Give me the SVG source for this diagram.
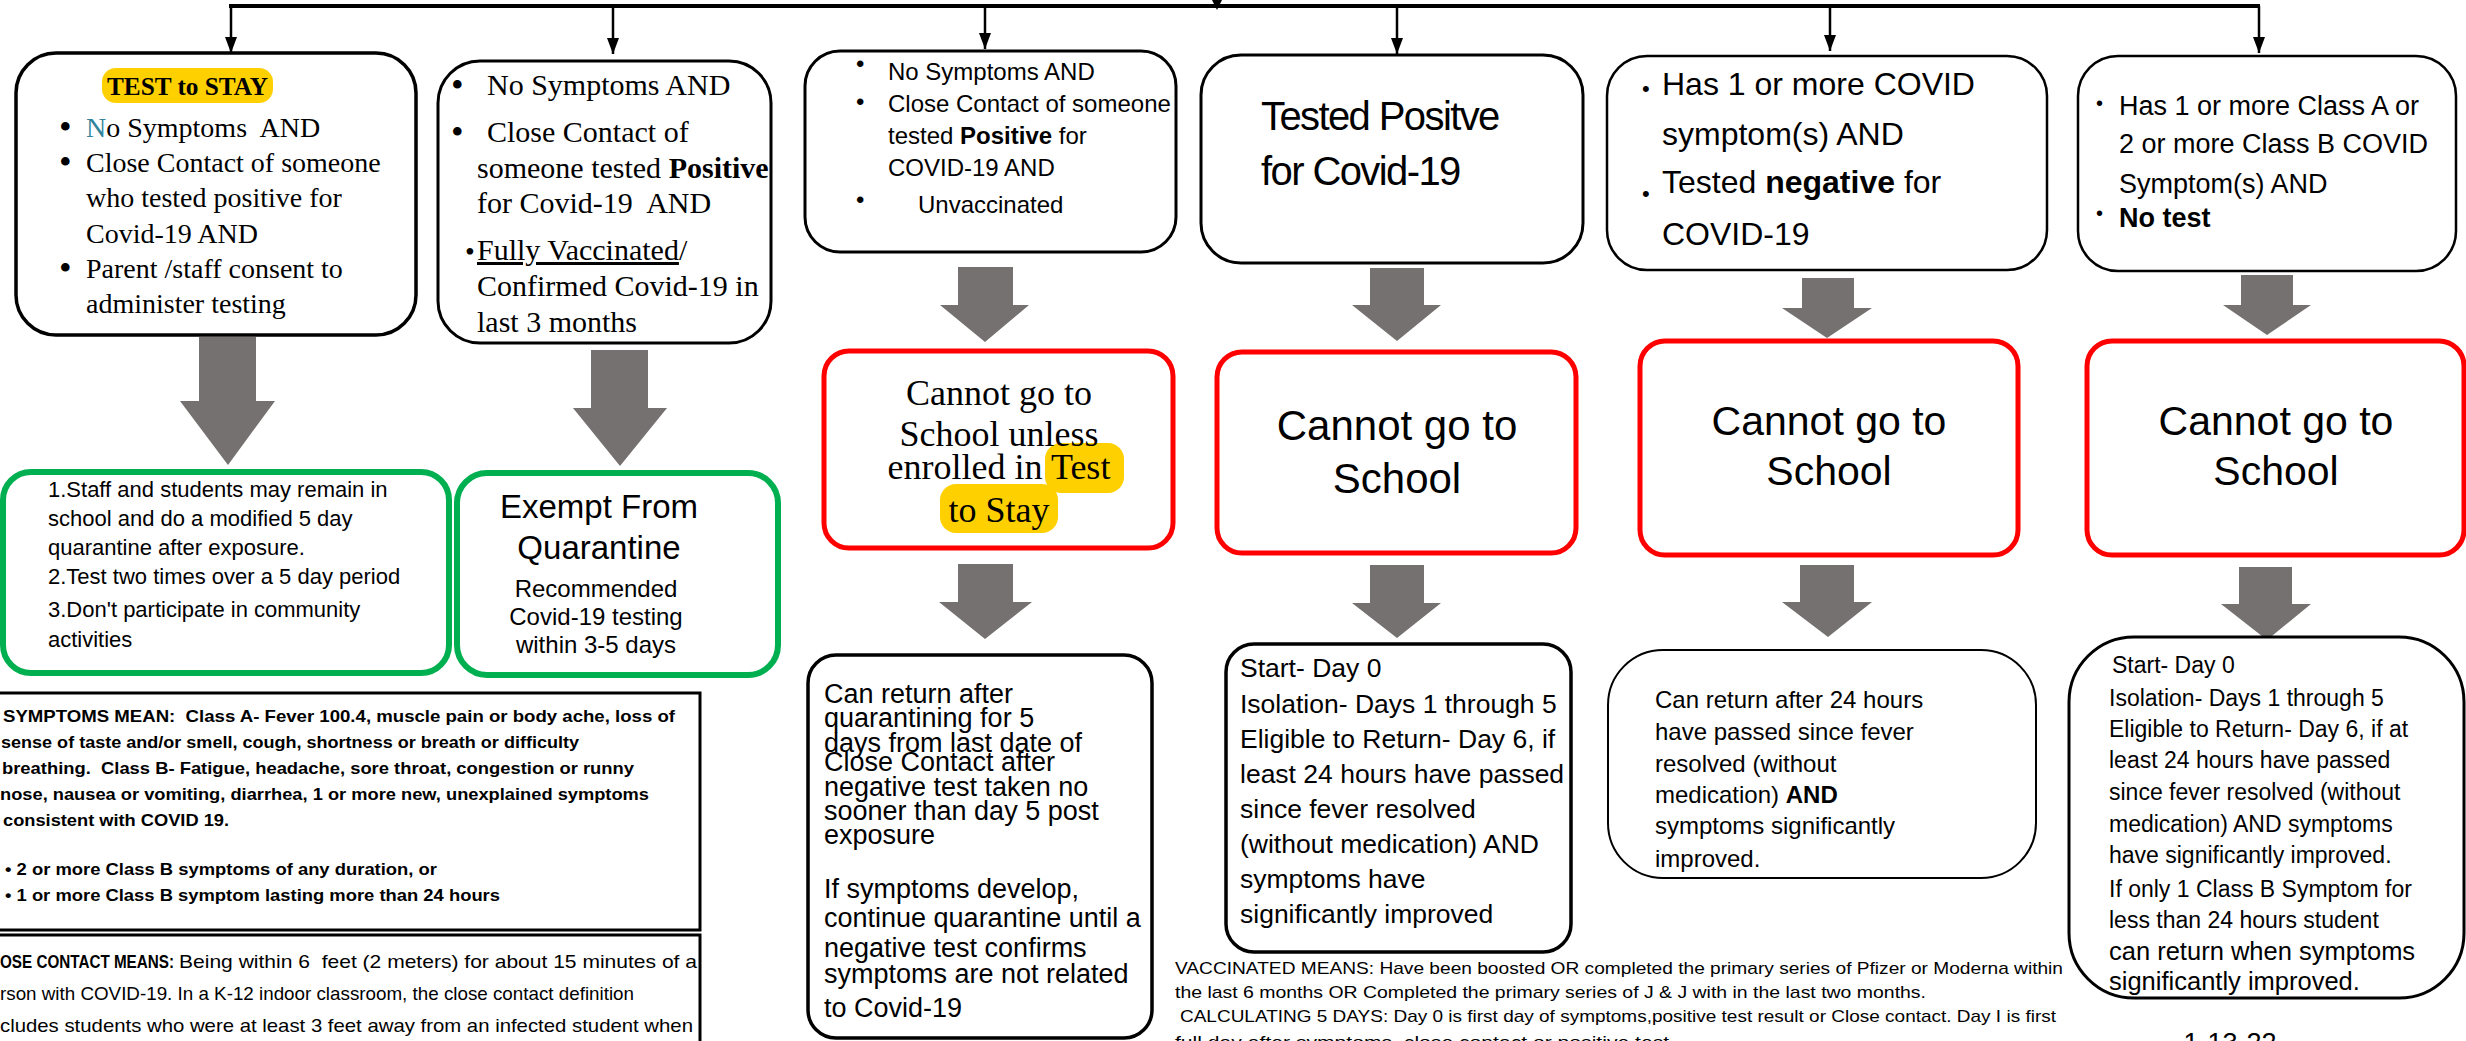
<svg xmlns="http://www.w3.org/2000/svg" width="2466" height="1041" viewBox="0 0 2466 1041">
<defs>
<marker id="ah" viewBox="0 -6 16 12" refX="16" refY="0" markerWidth="16" markerHeight="12" markerUnits="userSpaceOnUse" orient="auto">
<path d="M0,-6 L16,0 L0,6 z" fill="#000"/>
</marker>
<style>
.bx{fill:#fff;stroke:#000}
.red{fill:#fff;stroke:#ff0000;stroke-width:5}
.grn{fill:#fff;stroke:#00b050;stroke-width:6}
.ga{fill:#767171}
.ln{stroke:#000;stroke-width:2.5;fill:none}
.hl{fill:#ffd000}
.sf{font-family:"Liberation Serif",serif;fill:#000}
.ss{font-family:"Liberation Sans",sans-serif;fill:#000}
.b{font-weight:bold}
</style>
</defs>
<rect width="2466" height="1041" fill="#fff"/>

<g id="connectors">
<line x1="229" y1="6" x2="2260" y2="6" stroke="#000" stroke-width="4"/>
<path d="M1212,0 L1222,0 L1217,10 z" fill="#000"/>
<line class="ln" x1="231" y1="6" x2="231" y2="53" marker-end="url(#ah)"/>
<line class="ln" x1="613" y1="6" x2="613" y2="54" marker-end="url(#ah)"/>
<line class="ln" x1="985" y1="6" x2="985" y2="49" marker-end="url(#ah)"/>
<line class="ln" x1="1397" y1="6" x2="1397" y2="54" marker-end="url(#ah)"/>
<line class="ln" x1="1830" y1="6" x2="1830" y2="51" marker-end="url(#ah)"/>
<line class="ln" x1="2259" y1="6" x2="2259" y2="53" marker-end="url(#ah)"/>
<polygon class="ga" points="199,337 256,337 256,401 275,401 228,465 180,401 199,401"/>
<polygon class="ga" points="591,350 648,350 648,408 667,408 620,466 573,408 591,408"/>
<polygon class="ga" points="958,267 1013,267 1013,305 1029,305 985,342 940,305 958,305"/>
<polygon class="ga" points="1370,268 1424,268 1424,305 1441,305 1397,341 1352,305 1370,305"/>
<polygon class="ga" points="1802,278 1854,278 1854,308 1872,308 1827,338 1782,308 1802,308"/>
<polygon class="ga" points="2241,275 2293,275 2293,305 2311,305 2267,335 2223,305 2241,305"/>
<polygon class="ga" points="958,564 1013,564 1013,602 1032,602 985,639 939,602 958,602"/>
<polygon class="ga" points="1370,565 1424,565 1424,603 1441,603 1397,638 1352,603 1370,603"/>
<polygon class="ga" points="1800,565 1854,565 1854,602 1872,602 1828,637 1782,602 1800,602"/>
<polygon class="ga" points="2239,567 2292,567 2292,604 2311,604 2267,640 2221,604 2239,604"/>
</g>

<g id="test-to-stay">
<rect class="bx" x="16" y="53" width="400" height="282" rx="40" stroke-width="3.5"/>
<rect class="hl" x="102" y="68" width="171" height="35" rx="14"/>
<text class="sf b" x="187.5" y="95" text-anchor="middle" font-size="26" textLength="161" lengthAdjust="spacingAndGlyphs">TEST to STAY</text>
<g class="sf" font-size="28">
<text x="59" y="139" font-size="36">•</text>
<text x="86" y="137"><tspan fill="#31849b">N</tspan>o Symptoms&#160; AND</text>
<text x="59" y="174" font-size="36">•</text>
<text x="86" y="172">Close Contact of someone</text>
<text x="86" y="207">who tested positive for</text>
<text x="86" y="243">Covid-19 AND</text>
<text x="59" y="280" font-size="36">•</text>
<text x="86" y="278">Parent /staff consent to</text>
<text x="86" y="313">administer testing</text>
</g>
</g>

<g id="vaccinated-contact">
<rect class="bx" x="438" y="61" width="333" height="282" rx="42" stroke-width="3"/>
<g class="sf" font-size="30">
<text x="451" y="97" font-size="36">•</text>
<text x="487" y="95">No Symptoms AND</text>
<text x="451" y="144" font-size="36">•</text>
<text x="487" y="142">Close Contact of</text>
<text x="477" y="178">someone tested <tspan class="b">Positive</tspan></text>
<text x="477" y="213">for Covid-19&#160; AND</text>
<text x="465" y="261" font-size="28">•</text>
<text x="477" y="260"><tspan text-decoration="underline">Fully Vaccinated</tspan>/</text>
<text x="477" y="296">Confirmed Covid-19 in</text>
<text x="477" y="332">last 3 months</text>
</g>
</g>

<g id="unvaccinated-contact">
<rect class="bx" x="805" y="51" width="371" height="201" rx="35" stroke-width="3"/>
<g class="ss" font-size="24">
<text x="856" y="72">•</text>
<text x="888" y="80">No Symptoms AND</text>
<text x="856" y="110">•</text>
<text x="888" y="112">Close Contact of someone</text>
<text x="888" y="144">tested <tspan class="b">Positive</tspan> for</text>
<text x="888" y="176">COVID-19 AND</text>
<text x="856" y="208">•</text>
<text x="918" y="213">Unvaccinated</text>
</g>
</g>

<g id="tested-positive">
<rect class="bx" x="1201" y="55" width="382" height="208" rx="40" stroke-width="3"/>
<g class="ss" font-size="40" letter-spacing="-1.6">
<text x="1261" y="130">Tested Positve</text>
<text x="1261" y="185">for Covid-19</text>
</g>
</g>

<g id="symptoms-negative">
<rect class="bx" x="1607" y="56" width="440" height="214" rx="40" stroke-width="2.5"/>
<g class="ss" font-size="32">
<text x="1642" y="96" font-size="22">•</text>
<text x="1662" y="95">Has 1 or more COVID</text>
<text x="1662" y="145">symptom(s) AND</text>
<text x="1642" y="201" font-size="22">•</text>
<text x="1662" y="193">Tested <tspan class="b">negative</tspan> for</text>
<text x="1662" y="245">COVID-19</text>
</g>
</g>

<g id="symptoms-no-test">
<rect class="bx" x="2078" y="56" width="378" height="215" rx="40" stroke-width="2.5"/>
<g class="ss" font-size="27">
<text x="2096" y="110" font-size="20">•</text>
<text x="2119" y="115">Has 1 or more Class A or</text>
<text x="2119" y="153">2 or more Class B COVID</text>
<text x="2119" y="193">Symptom(s) AND</text>
<text x="2096" y="220" font-size="20">•</text>
<text x="2119" y="227" class="b">No test</text>
</g>
</g>

<g id="modified-quarantine">
<rect class="grn" x="3" y="472" width="446" height="201" rx="28"/>
<g class="ss" font-size="22">
<text x="48" y="497">1.Staff and students may remain in</text>
<text x="48" y="526">school and do a modified 5 day</text>
<text x="48" y="555">quarantine after exposure.</text>
<text x="48" y="584">2.Test two times over a 5 day period</text>
<text x="48" y="617">3.Don't participate in community</text>
<text x="48" y="647">activities</text>
</g>
</g>

<g id="exempt">
<rect class="grn" x="457" y="473" width="321" height="202" rx="30"/>
<g class="ss" text-anchor="middle">
<text x="599" y="518" font-size="33">Exempt From</text>
<text x="599" y="559" font-size="33">Quarantine</text>
<text x="596" y="597" font-size="24">Recommended</text>
<text x="596" y="625" font-size="24">Covid-19 testing</text>
<text x="596" y="653" font-size="24">within 3-5 days</text>
</g>
</g>

<g id="symptoms-definition">
<rect class="bx" x="-3" y="693" width="703" height="237" stroke-width="3"/>
<g class="ss b" font-size="17">
<text x="3" y="722" textLength="672" lengthAdjust="spacingAndGlyphs">SYMPTOMS MEAN:&#160; Class A- Fever 100.4, muscle pain or body ache, loss of</text>
<text x="1" y="748" textLength="578" lengthAdjust="spacingAndGlyphs">sense of taste and/or smell, cough, shortness or breath or difficulty</text>
<text x="2" y="774" textLength="632" lengthAdjust="spacingAndGlyphs">breathing.&#160; Class B- Fatigue, headache, sore throat, congestion or runny</text>
<text x="0" y="800" textLength="649" lengthAdjust="spacingAndGlyphs">nose, nausea or vomiting, diarrhea, 1 or more new, unexplained symptoms</text>
<text x="3" y="826" textLength="226" lengthAdjust="spacingAndGlyphs">consistent with COVID 19.</text>
<text x="5" y="875" textLength="432" lengthAdjust="spacingAndGlyphs">• 2 or more Class B symptoms of any duration, or</text>
<text x="5" y="901" textLength="495" lengthAdjust="spacingAndGlyphs">• 1 or more Class B symptom lasting more than 24 hours</text>
</g>
</g>

<g id="close-contact-definition">
<rect class="bx" x="-3" y="935" width="703" height="120" stroke-width="3"/>
<g class="ss" font-size="19">
<text x="0" y="968" class="b" textLength="174" lengthAdjust="spacingAndGlyphs">OSE CONTACT MEANS:</text>
<text x="179" y="968" textLength="518" lengthAdjust="spacingAndGlyphs">Being within 6&#160; feet (2 meters) for about 15 minutes of a</text>
<text x="0" y="1000" textLength="634" lengthAdjust="spacingAndGlyphs">rson with COVID-19. In a K-12 indoor classroom, the close contact definition</text>
<text x="0" y="1032" textLength="693" lengthAdjust="spacingAndGlyphs">cludes students who were at least 3 feet away from an infected student when</text>
</g>
</g>

<g id="cannot-go-unless-tts">
<rect class="red" x="824" y="351" width="349" height="197" rx="25"/>
<rect class="hl" x="1045" y="443" width="79" height="50" rx="16"/>
<rect class="hl" x="940" y="484" width="118" height="49" rx="16"/>
<g class="sf" font-size="36" text-anchor="middle">
<text x="999" y="405">Cannot go to</text>
<text x="999" y="446">School unless</text>
<text x="999" y="479">enrolled in Test</text>
<text x="999" y="522">to Stay</text>
</g>
</g>

<g id="cannot-go-positive">
<rect class="red" x="1217" y="352" width="359" height="201" rx="25"/>
<g class="ss" font-size="42" text-anchor="middle">
<text x="1397" y="440">Cannot go to</text>
<text x="1397" y="493">School</text>
</g>
</g>

<g id="cannot-go-negative">
<rect class="red" x="1640" y="341" width="378" height="214" rx="25"/>
<g class="ss" font-size="41" text-anchor="middle">
<text x="1829" y="435">Cannot go to</text>
<text x="1829" y="485">School</text>
</g>
</g>

<g id="cannot-go-no-test">
<rect class="red" x="2087" y="341" width="377" height="214" rx="25"/>
<g class="ss" font-size="41" text-anchor="middle">
<text x="2276" y="435">Cannot go to</text>
<text x="2276" y="485">School</text>
</g>
</g>

<g id="return-quarantine">
<rect class="bx" x="808" y="655" width="344" height="383" rx="28" stroke-width="3.5"/>
<g class="ss" font-size="27">
<text x="824" y="703">Can return after</text>
<text x="824" y="727">quarantining for 5</text>
<text x="824" y="752">days from last date of</text>
<text x="824" y="771">Close Contact after</text>
<text x="824" y="796">negative test taken no</text>
<text x="824" y="820">sooner than day 5 post</text>
<text x="824" y="844">exposure</text>
<text x="824" y="898">If symptoms develop,</text>
<text x="824" y="927">continue quarantine until a</text>
<text x="824" y="957">negative test confirms</text>
<text x="824" y="983">symptoms are not related</text>
<text x="824" y="1017">to Covid-19</text>
</g>
</g>

<g id="isolation-positive">
<rect class="bx" x="1226" y="644" width="345" height="308" rx="28" stroke-width="3.5"/>
<g class="ss" font-size="26.5">
<text x="1240" y="677">Start- Day 0</text>
<text x="1240" y="713">Isolation- Days 1 through 5</text>
<text x="1240" y="748">Eligible to Return- Day 6, if</text>
<text x="1240" y="783">least 24 hours have passed</text>
<text x="1240" y="818">since fever resolved</text>
<text x="1240" y="853">(without medication) AND</text>
<text x="1240" y="888">symptoms have</text>
<text x="1240" y="923">significantly improved</text>
</g>
</g>

<g id="return-negative">
<rect class="bx" x="1608" y="650" width="428" height="228" rx="55" stroke-width="2"/>
<g class="ss" font-size="24">
<text x="1655" y="708">Can return after 24 hours</text>
<text x="1655" y="740">have passed since fever</text>
<text x="1655" y="772">resolved (without</text>
<text x="1655" y="803">medication) <tspan class="b">AND</tspan></text>
<text x="1655" y="834">symptoms significantly</text>
<text x="1655" y="867">improved.</text>
</g>
</g>

<g id="isolation-no-test">
<rect class="bx" x="2069" y="637" width="395" height="361" rx="65" stroke-width="3"/>
<g class="ss" font-size="23">
<text x="2112" y="673">Start- Day 0</text>
<text x="2109" y="706">Isolation- Days 1 through 5</text>
<text x="2109" y="737">Eligible to Return- Day 6, if at</text>
<text x="2109" y="768">least 24 hours have passed</text>
<text x="2109" y="800">since fever resolved (without</text>
<text x="2109" y="832">medication) AND symptoms</text>
<text x="2109" y="863">have significantly improved.</text>
<text x="2109" y="897">If only 1 Class B Symptom for</text>
<text x="2109" y="928">less than 24 hours student</text>
<text x="2109" y="960" font-size="25.5">can return when symptoms</text>
<text x="2109" y="990" font-size="25.5">significantly improved.</text>
</g>
</g>

<g id="vaccinated-note">
<g class="ss" font-size="17">
<text x="1175" y="974" textLength="888" lengthAdjust="spacingAndGlyphs">VACCINATED MEANS: Have been boosted OR completed the primary series of Pfizer or Moderna within</text>
<text x="1175" y="998" textLength="751" lengthAdjust="spacingAndGlyphs">the last 6 months OR Completed the primary series of J &amp; J with in the last two months.</text>
<text x="1180" y="1022" textLength="876" lengthAdjust="spacingAndGlyphs">CALCULATING 5 DAYS: Day 0 is first day of symptoms,positive test result or Close contact. Day I is first</text>
<text x="1175" y="1048" textLength="500" lengthAdjust="spacingAndGlyphs">full day after symptoms, close contact or positive test.</text>
</g>
<text class="ss" x="2230" y="1052" font-size="27" text-anchor="middle">1-13-22</text>
</g>
</svg>
